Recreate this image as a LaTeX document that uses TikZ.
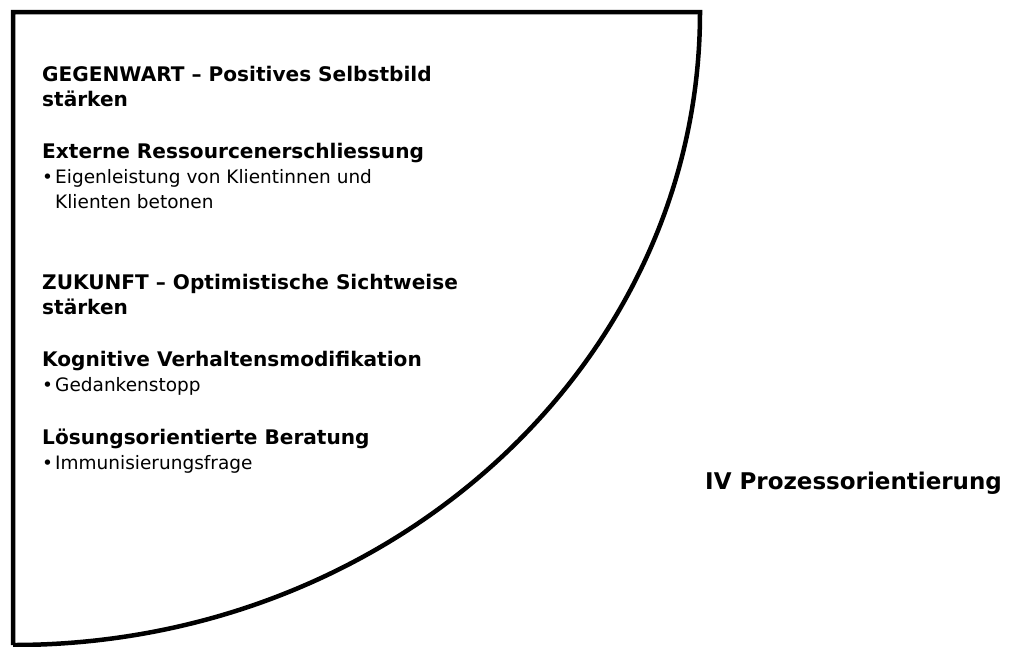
\documentclass[tikz,border=0pt]{standalone}
\usepackage{fontspec}
\setmainfont{DejaVu Sans}
\begin{document}
\begin{tikzpicture}[x=1pt,y=1pt,
  head/.style={anchor=base west,inner sep=0pt,font=\fontsize{20.1}{25}\selectfont\bfseries},
  body/.style={anchor=base west,inner sep=0pt,font=\fontsize{18.5}{25}\selectfont},
  title/.style={anchor=base west,inner sep=0pt,font=\fontsize{23}{28}\selectfont\bfseries},
  frame/.style={line width=4.5pt,line join=miter,black}]
\useasboundingbox (0,0) rectangle (1011,-646);
\coordinate (bl) at (13,-645);
\coordinate (tl) at (13,-12);
\coordinate (tr) at (700,-12);
\draw[frame] (bl) -- (tl) -- (tr) arc[start angle=0,end angle=-90,x radius=687pt,y radius=633pt];
\node[head] (h1) at (42,-81) {GEGENWART – Positives Selbstbild};
\node[head] (h1b) at (42,-106) {stärken};
\node[head] (h2) at (42,-158) {Externe Ressourcenerschliessung};
\node[body] (b1) at (42,-183) {•};
\node[body] (t1) at (55,-183) {Eigenleistung von Klientinnen und};
\node[body] (t1b) at (55,-208) {Klienten betonen};
\node[head] (h3) at (42,-289) {ZUKUNFT – Optimistische Sichtweise};
\node[head] (h3b) at (42,-314) {stärken};
\node[head] (h4) at (42,-366) {Kognitive Verhaltensmodifikation};
\node[body] (b2) at (42,-391) {•};
\node[body] (t2) at (55,-391) {Gedankenstopp};
\node[head] (h5) at (42,-444) {Lösungsorientierte Beratung};
\node[body] (b3) at (42,-469) {•};
\node[body] (t3) at (55,-469) {Immunisierungsfrage};
\node[title] (ti) at (705,-489) {IV Prozessorientierung};
\end{tikzpicture}
\end{document}
